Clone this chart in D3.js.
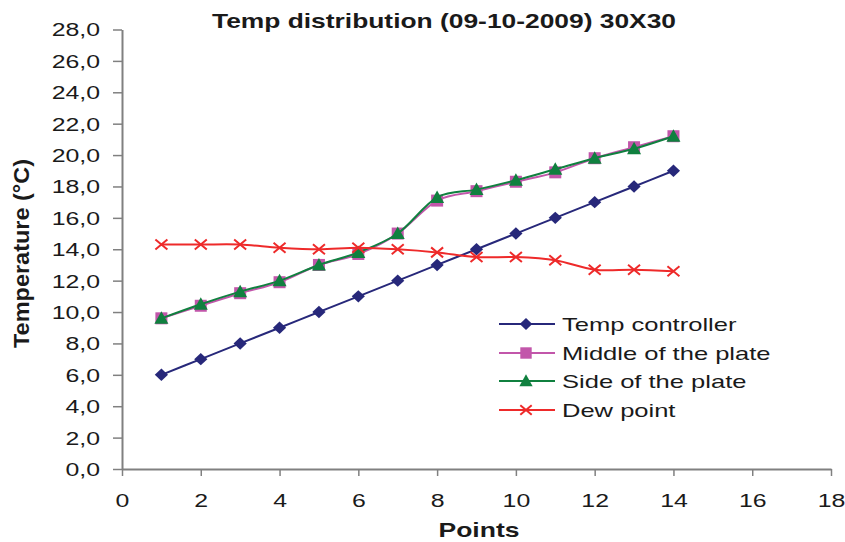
<!DOCTYPE html>
<html>
<head>
<meta charset="utf-8">
<script src="https://cdn.jsdelivr.net/npm/d3@7"></script>
<style>
  html, body { margin: 0; padding: 0; background: #fff; }
  svg { display: block; font-family: Arial, "Liberation Sans", sans-serif; }
</style>
</head>
<body>
<svg id="chart" width="845" height="542"></svg>
<script>
// Measurement points along the plate
const points = [1, 2, 3, 4, 5, 6, 7, 8, 9, 10, 11, 12, 13, 14];

// Temperatures (°C) per series
const tempController = [6.0, 7.0, 8.0, 9.0, 10.0, 11.0, 12.0, 13.0, 14.0, 15.0, 16.0, 17.0, 18.0, 19.0];
const middleOfPlate  = [9.6, 10.4, 11.2, 11.9, 13.0, 13.7, 15.0, 17.1, 17.7, 18.3, 18.9, 19.8, 20.5, 21.2];
const sideOfPlate    = [9.6, 10.5, 11.3, 12.0, 13.0, 13.8, 15.0, 17.3, 17.8, 18.4, 19.1, 19.8, 20.4, 21.2];
const dewPoint       = [14.3, 14.3, 14.3, 14.1, 14.0, 14.1, 14.0, 13.8, 13.5, 13.5, 13.3, 12.7, 12.7, 12.6];

const seriesNames = ["Temp controller", "Middle of the plate", "Side of the plate", "Dew point"];
const xTicks = [0, 2, 4, 6, 8, 10, 12, 14, 16, 18];
const yTicks = [0, 2, 4, 6, 8, 10, 12, 14, 16, 18, 20, 22, 24, 26, 28];

const title = "Temp distribution (09-10-2009) 30X30";
const xTitle = "Points";
const yTitle = "Temperature (°C)";

const series = [
  { name: seriesNames[0], values: tempController, color: "#27287a", marker: "diamond" },
  { name: seriesNames[1], values: middleOfPlate,  color: "#c256aa", marker: "square" },
  { name: seriesNames[2], values: sideOfPlate,    color: "#10803f", marker: "triangle" },
  { name: seriesNames[3], values: dewPoint,       color: "#ee2a2a", marker: "cross" }
];

const svg = d3.select("#chart");
const SX = 1.38; // horizontal stretch of the regular text

const x = d3.scaleLinear().domain([0, 18]).range([122, 831]);
const y = d3.scaleLinear().domain([0, 28]).range([469, 29.5]);

const fmt = d => d3.format(".1f")(d).replace(".", ",");
const axisColor = "#808080";

// Y axis
const yAxis = svg.append("g")
  .attr("transform", `translate(${x(0)},0)`)
  .call(d3.axisLeft(y).tickValues(yTicks).tickSize(9).tickSizeOuter(0).tickFormat(fmt));
yAxis.select(".domain").attr("stroke", axisColor).attr("stroke-width", 2);
yAxis.selectAll(".tick line").attr("stroke", axisColor).attr("stroke-width", 1.5);
yAxis.selectAll(".tick text")
  .attr("x", 0).attr("dy", "0.36em")
  .attr("transform", `translate(-22,0) scale(${SX},1)`)
  .attr("font-size", 18).attr("fill", "#1a1a1a").attr("font-family", "Arial, 'Liberation Sans', sans-serif");

// X axis
const xAxis = svg.append("g")
  .attr("transform", `translate(0,${y(0)})`)
  .call(d3.axisBottom(x).tickValues(xTicks).tickSize(7).tickSizeOuter(0).tickFormat(d3.format("d")));
xAxis.select(".domain").attr("stroke", axisColor).attr("stroke-width", 2);
xAxis.selectAll(".tick line").attr("stroke", axisColor).attr("stroke-width", 1.5);
xAxis.selectAll(".tick text")
  .attr("y", 38).attr("dy", 0)
  .attr("transform", `scale(${SX},1)`)
  .attr("font-size", 18).attr("fill", "#1a1a1a").attr("font-family", "Arial, 'Liberation Sans', sans-serif");

// Marker shapes
function drawMarker(g, type, color, cx, cy, s) {
  s = s || 1;
  if (type === "diamond") {
    g.append("path")
      .attr("d", `M${cx},${cy - 6.2 * s} L${cx + 6.6 * s},${cy} L${cx},${cy + 6.2 * s} L${cx - 6.6 * s},${cy} Z`)
      .attr("fill", color);
  } else if (type === "square") {
    g.append("rect")
      .attr("x", cx - 6 * s).attr("y", cy - 6 * s)
      .attr("width", 12 * s).attr("height", 12 * s)
      .attr("fill", color);
  } else if (type === "triangle") {
    g.append("path")
      .attr("d", `M${cx},${cy - 7 * s} L${cx + 7 * s},${cy + 5.5 * s} L${cx - 7 * s},${cy + 5.5 * s} Z`)
      .attr("fill", color);
  } else if (type === "cross") {
    g.append("path")
      .attr("d", `M${cx - 6 * s},${cy - 5 * s} L${cx + 6 * s},${cy + 5 * s} M${cx - 6 * s},${cy + 5 * s} L${cx + 6 * s},${cy - 5 * s}`)
      .attr("stroke", color).attr("stroke-width", 2).attr("fill", "none");
  }
}

// Series lines and markers (smoothed lines)
const line = d3.line()
  .x((d, i) => x(points[i]))
  .y(d => y(d))
  .curve(d3.curveCardinal.tension(0));

series.forEach(s => {
  const g = svg.append("g");
  g.append("path")
    .datum(s.values)
    .attr("d", line)
    .attr("fill", "none")
    .attr("stroke", s.color)
    .attr("stroke-width", 2);
  s.values.forEach((v, i) => drawMarker(g, s.marker, s.color, x(points[i]), y(v)));
});

// Legend
const legend = svg.append("g");
const legendRows = [324, 353, 381, 410];
series.forEach((s, i) => {
  const ly = legendRows[i];
  legend.append("line")
    .attr("x1", 499).attr("x2", 555).attr("y1", ly).attr("y2", ly)
    .attr("stroke", s.color).attr("stroke-width", 2);
  drawMarker(legend, s.marker, s.color, 526, ly, 0.95);
  legend.append("text")
    .attr("transform", `translate(562,${ly + 6.6}) scale(${SX},1)`)
    .attr("font-size", 18.5).attr("fill", "#1a1a1a")
    .text(s.name);
});

// Titles
svg.append("text")
  .attr("x", 212).attr("y", 27.5)
  .attr("font-size", 21).attr("font-weight", "bold").attr("fill", "#1a1a1a")
  .attr("textLength", 464).attr("lengthAdjust", "spacingAndGlyphs")
  .text(title);

svg.append("text")
  .attr("x", 479 - 40.5).attr("y", 536.5)
  .attr("font-size", 21).attr("font-weight", "bold").attr("fill", "#1a1a1a")
  .attr("textLength", 81).attr("lengthAdjust", "spacingAndGlyphs")
  .text(xTitle);

svg.append("text")
  .attr("transform", `translate(29,${253.5 + 94.5}) rotate(-90)`)
  .attr("font-size", 21.5).attr("font-weight", "bold").attr("fill", "#1a1a1a")
  .attr("textLength", 189).attr("lengthAdjust", "spacingAndGlyphs")
  .text(yTitle);
</script>
</body>
</html>
